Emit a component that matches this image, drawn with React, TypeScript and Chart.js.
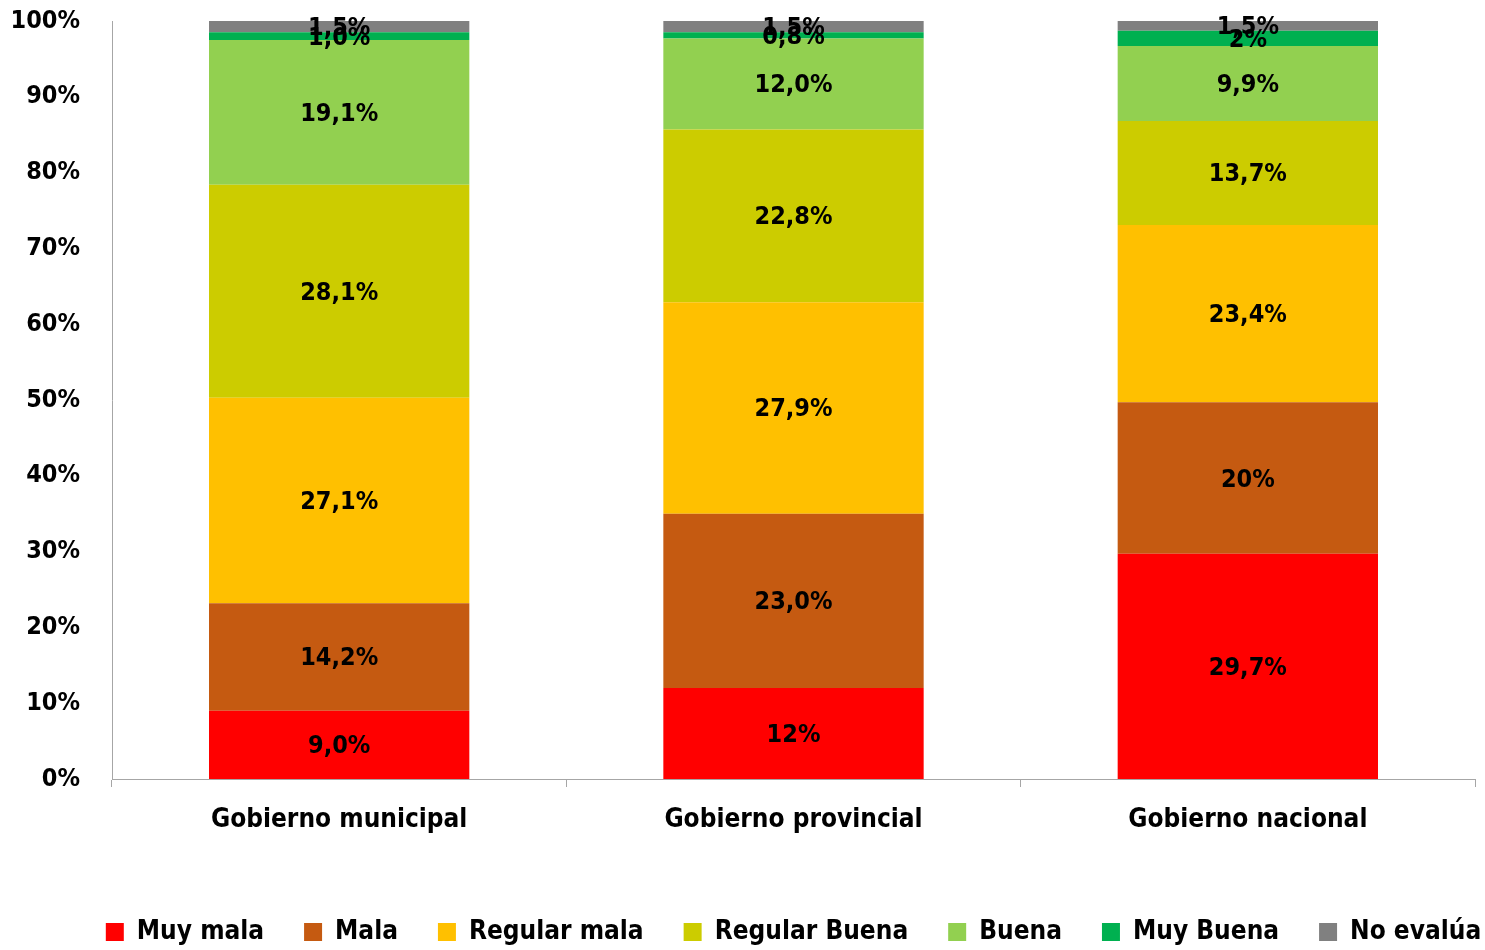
import React, { useEffect, useRef } from "react";
import { Chart, registerables } from "chart.js";

Chart.register(...registerables);

const categories = ["Gobierno municipal", "Gobierno provincial", "Gobierno nacional"];
const seriesNames = ["Muy mala", "Mala", "Regular mala", "Regular Buena", "Buena", "Muy Buena", "No evalúa"];
const seriesColors = ["#FF0000", "#C55A11", "#FFC000", "#CCCC00", "#92D050", "#00B050", "#808080"];

const muyMala = [9.0, 12, 29.7];
const mala = [14.2, 23.0, 20];
const regularMala = [27.1, 27.9, 23.4];
const regularBuena = [28.1, 22.8, 13.7];
const buena = [19.1, 12.0, 9.9];
const muyBuena = [1.0, 0.8, 2];
const noEvalua = [1.5, 1.5, 1.5];

const muyMalaLabels = ["9,0%", "12%", "29,7%"];
const malaLabels = ["14,2%", "23,0%", "20%"];
const regularMalaLabels = ["27,1%", "27,9%", "23,4%"];
const regularBuenaLabels = ["28,1%", "22,8%", "13,7%"];
const buenaLabels = ["19,1%", "12,0%", "9,9%"];
const muyBuenaLabels = ["1,0%", "0,8%", "2%"];
const noEvaluaLabels = ["1,5%", "1,5%", "1,5%"];

const yTicks = [0, 10, 20, 30, 40, 50, 60, 70, 80, 90, 100];

const FONT = "'Liberation Sans Narrow', 'DejaVu Sans Condensed', 'Roboto', sans-serif";

const allValues = [muyMala, mala, regularMala, regularBuena, buena, muyBuena, noEvalua];
const allLabels = [muyMalaLabels, malaLabels, regularMalaLabels, regularBuenaLabels, buenaLabels, muyBuenaLabels, noEvaluaLabels];

const labelPlugin = {
  id: "segLabels",
  afterDatasetsDraw(chart: any) {
    const ctx = chart.ctx;
    ctx.save();
    ctx.font = `bold 25px ${FONT}`;
    ctx.fillStyle = "#000";
    ctx.textAlign = "center";
    ctx.textBaseline = "middle";
    chart.data.datasets.forEach((ds: any, di: number) => {
      const meta = chart.getDatasetMeta(di);
      meta.data.forEach((bar: any, i: number) => {
        const top = Math.max(bar.y, chart.chartArea.top);
        const y = (top + bar.base) / 2;
        ctx.fillText(ds.segLabels[i], bar.x, y + 2);
      });
    });
    ctx.restore();
  },
};

// centre the legend under the plot area rather than the whole canvas
const legendShift = {
  id: "legendShift",
  afterLayout(chart: any) {
    const lg = chart.legend;
    if (!lg) return;
    const shift = (chart.chartArea.left + chart.chartArea.right) / 2 - (lg.left + lg.right) / 2;
    lg.left += shift;
    lg.right += shift;
  },
};

export default function App() {
  const ref = useRef<HTMLCanvasElement>(null);
  useEffect(() => {
    document.body.style.margin = "0";
    const chart = new Chart(ref.current!, {
      type: "bar",
      data: {
        labels: categories,
        datasets: seriesNames.map((name, k) => ({
          label: name,
          data: allValues[k],
          backgroundColor: seriesColors[k],
          borderWidth: 0,
          categoryPercentage: 1,
          barPercentage: 0.573,
          segLabels: allLabels[k],
        })) as any,
      },
      options: {
        animation: false,
        responsive: false,
        maintainAspectRatio: false,
        layout: { padding: { top: 21, right: 10, left: 0, bottom: -5 } },
        plugins: {
          legend: {
            position: "bottom",
            labels: {
              boxWidth: 18,
              boxHeight: 18,
              padding: 40,
              color: "#000",
              font: { family: FONT, size: 26, weight: "bold" },
            },
          },
          tooltip: { enabled: false },
        },
        scales: {
          x: {
            stacked: true,
            grid: { display: true, drawOnChartArea: false, offset: true, tickLength: 8, color: "#A6A6A6" },
            border: { display: true, color: "#A6A6A6" },
            ticks: { color: "#000", padding: 18, font: { family: FONT, size: 26, weight: "bold" } },
            afterFit: (s: any) => {
              s.height = 100;
              s.paddingLeft = 0;
              s.paddingRight = 0;
            },
          },
          y: {
            stacked: true,
            min: 0,
            max: 100,
            grid: { display: false },
            border: { display: true, color: "#A6A6A6" },
            afterBuildTicks: (s: any) => { s.ticks = yTicks.map((v) => ({ value: v })); },
            ticks: {
              color: "#000",
              padding: 24,
              font: { family: FONT, size: 25, weight: "bold" },
              callback: (v: any) => `${v}%`,
            },
            afterFit: (s: any) => {
              s.width = 112;
              s.paddingTop = 0;
              s.paddingBottom = 0;
            },
          },
        },
      },
      plugins: [labelPlugin, legendShift],
    });
    return () => chart.destroy();
  }, []);
  return (
    <div style={{ width: 1485, height: 950 }}>
      <canvas ref={ref} width={1485} height={950} style={{ display: "block" }} />
    </div>
  );
}
